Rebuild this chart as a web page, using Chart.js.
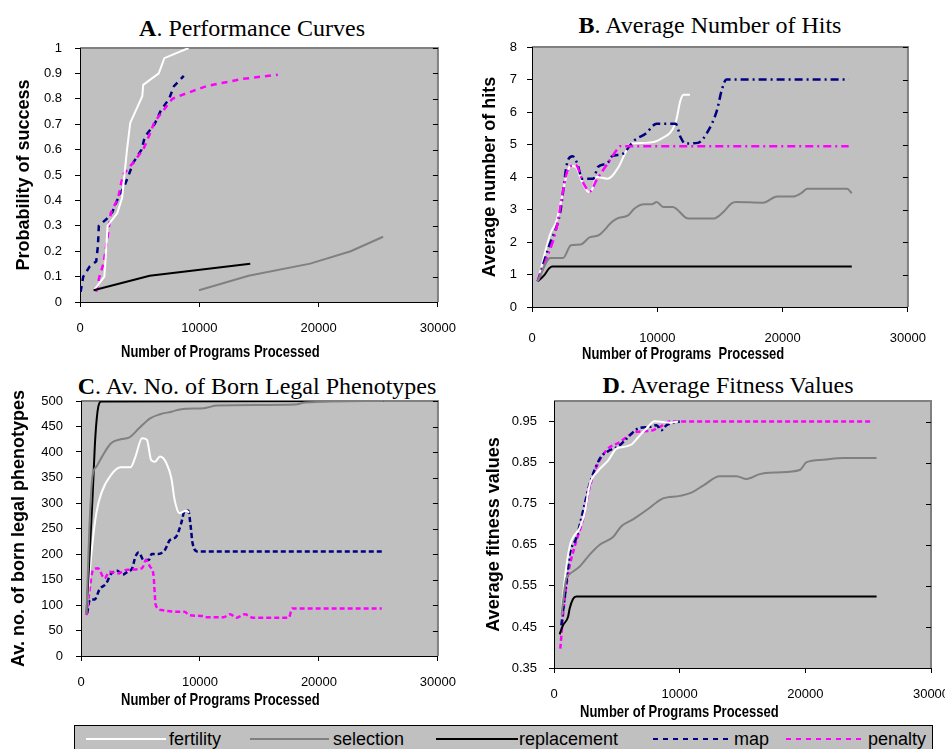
<!DOCTYPE html>
<html>
<head>
<meta charset="utf-8">
<script src="https://cdn.jsdelivr.net/npm/chart.js@4.4.1/dist/chart.umd.min.js"></script>
<style>
    html, body { margin: 0; padding: 0; background: #fff; width: 945px; height: 749px; overflow: hidden; }
    body { position: relative; }
    canvas { position: absolute; }
    .ttl { position: absolute; font-family: 'Liberation Serif', 'Times New Roman', serif; font-size: 24px; line-height: 24px; white-space: nowrap; transform: translateX(-50%); color: #000; }
    .xt { position: absolute; font-family: 'Liberation Sans', Arial, sans-serif; font-weight: bold; font-size: 13px; line-height: 18px; white-space: pre; color: #000; transform: scaleY(1.25); transform-origin: 0 50%; }
    #legend { position: absolute; left: 74px; top: 725px; width: 857px; height: 30px; background: #C0C0C0; border: 1px solid #000; }
    .lg-line { position: absolute; height: 2px; top: 12px; }
    .lg-txt { position: absolute; top: 2px; font-family: 'Liberation Sans', Arial, sans-serif; font-size: 18px; line-height: 22px; color: #000; }
</style>
</head>
<body>

<div class="ttl" style="left:252px; top:16px;"><b>A</b>. Performance Curves</div>
<div class="ttl" style="left:710px; top:13px;"><b>B</b>. Average Number of Hits</div>
<div class="ttl" style="left:257px; top:374px;"><b>C</b>. Av. No. of Born Legal Phenotypes</div>
<div class="ttl" style="left:728px; top:373px;"><b>D</b>. Average Fitness Values</div>

<canvas id="chartA" width="470" height="360" style="left:0px; top:0px;"></canvas>
<canvas id="chartB" width="475" height="370" style="left:470px; top:0px;"></canvas>
<canvas id="chartC" width="470" height="330" style="left:0px; top:360px;"></canvas>
<canvas id="chartD" width="495" height="345" style="left:470px; top:360px;"></canvas>

<div class="xt" style="left:121px; top:343px;">Number of Programs Processed</div>
<div class="xt" style="left:582px; top:345px;">Number of Programs  Processed</div>
<div class="xt" style="left:121px; top:691px;">Number of Programs Processed</div>
<div class="xt" style="left:580px; top:703px;">Number of Programs Processed</div>

<div id="legend"></div>

<script>
// series names + colours
const SERIES = ['fertility', 'selection', 'replacement', 'map', 'penalty'];
const COLORS = ['#FFFFFF', '#808080', '#000000', '#000080', '#FF00FF'];

const X_TICKS = [0, 10000, 20000, 30000];

// A. Performance Curves  [programs, probability]
const A_FERTILITY = [[1220,0.05],[2040,0.1],[2175,0.19],[2310,0.3],[3125,0.35],[3530,0.41],[3940,0.6],[4210,0.705],[5220,0.81],[5300,0.855],[6600,0.9],[7070,0.96],[9100,1.0]];
const A_SELECTION = [[9970,0.046],[14130,0.103],[19290,0.151],[22690,0.2],[25410,0.257]];
const A_REPLACEMENT = [[1140,0.046],[5840,0.103],[14270,0.151]];
const A_MAP = [[50,0.04],[270,0.1],[820,0.14],[1360,0.16],[1500,0.22],[1580,0.3],[2300,0.33],[2720,0.355],[3200,0.41],[3750,0.46],[4080,0.5],[4480,0.55],[5160,0.6],[5430,0.65],[6250,0.7],[6790,0.755],[7470,0.8],[7880,0.85],[8700,0.89]];
const A_PENALTY = [[1360,0.04],[1630,0.1],[1960,0.15],[2300,0.25],[2580,0.35],[3200,0.41],[3590,0.5],[4480,0.55],[5300,0.6],[5840,0.66],[6250,0.71],[6930,0.75],[7740,0.8],[8830,0.82],[10600,0.85],[13590,0.878],[16580,0.895]];
const A_YTICKS = [0, 0.1, 0.2, 0.3, 0.4, 0.5, 0.6, 0.7, 0.8, 0.9, 1];

// B. Average Number of Hits
const B_FERTILITY = [[456,0.79],[1470,2.26],[1975,2.67],[2860,4.2],[3110,4.34],[3490,4.31],[4000,3.85],[4510,3.54],[4760,3.59],[5140,4.0],[6025,3.95],[6910,4.31],[7420,4.72],[7920,5.03],[9060,5.05],[10330,5.18],[11470,5.69],[11850,6.36],[12100,6.53],[12600,6.53]];
const B_SELECTION = [[456,0.79],[1470,1.51],[2480,1.51],[3110,1.9],[3870,1.92],[4630,2.15],[5270,2.2],[6400,2.62],[6780,2.72],[7670,2.82],[8180,3.03],[8940,3.16],[9570,3.16],[9950,3.23],[10460,3.08],[11220,3.08],[12480,2.72],[14510,2.72],[15270,2.92],[15900,3.18],[16280,3.23],[18430,3.21],[19570,3.4],[20840,3.4],[21470,3.5],[21970,3.64],[25140,3.64],[25520,3.5]];
const B_REPLACEMENT = [[456,0.79],[962,0.97],[1342,1.18],[1595,1.25],[25520,1.25]];
const B_MAP = [[456,0.79],[1340,1.85],[2230,2.87],[2860,4.51],[3240,4.64],[3620,4.41],[4000,3.95],[4890,3.95],[5270,4.31],[6025,4.43],[6400,4.64],[7170,4.7],[8180,5.13],[9060,5.33],[9950,5.64],[11470,5.64],[11850,5.23],[12230,5.03],[13240,5.05],[14000,5.38],[14760,6.05],[15140,6.67],[15520,7.0],[25270,7.0]];
const B_PENALTY = [[456,0.79],[1215,1.54],[1850,2.26],[2990,4.31],[3490,4.36],[4130,3.79],[4630,3.56],[5140,3.9],[5650,4.2],[6025,4.41],[6780,4.84],[7040,4.95],[25270,4.95]];
const B_YTICKS = [0, 1, 2, 3, 4, 5, 6, 7, 8];

// C. Av. No. of Born Legal Phenotypes
const C_FERTILITY = [[466,84],[877,201],[1289,280],[1700,319],[2523,355],[3345,370],[4168,370],[4580,391],[5130,427],[5540,424],[5900,384],[6220,381],[6640,391],[7180,378],[7600,348],[7870,306],[8280,280],[8830,285],[9100,281]];
const C_SELECTION = [[466,84],[686,240],[960,352],[1289,371],[1700,388],[2523,417],[3345,425],[4030,428],[4850,446],[5810,466],[6640,474],[7600,479],[8420,484],[10340,486],[11430,491],[18010,493],[18840,497],[25420,500]];
const C_REPLACEMENT = [[466,84],[960,306],[1206,430],[1453,489],[1700,499],[25420,500]];
const C_MAP = [[521,84],[740,110],[1150,111],[1563,131],[2110,142],[2523,161],[3070,167],[3480,159],[3890,165],[4300,172],[4580,195],[4850,203],[5270,188],[5680,188],[5950,200],[6500,200],[7050,208],[7460,227],[8000,234],[8420,260],[8690,283],[9020,285],[9190,260],[9380,221],[9790,205],[25280,205]];
const C_PENALTY = [[466,80],[686,123],[1014,169],[1426,172],[1974,152],[2386,165],[3070,162],[3890,169],[5130,172],[5460,188],[5810,175],[6090,159],[6280,100],[6770,90],[7870,87],[8690,87],[9100,80],[10340,78],[10470,76],[11980,76],[12530,82],[13080,75],[13760,82],[14450,75],[17470,75],[17740,93],[25280,93]];
const C_YTICKS = [0, 50, 100, 150, 200, 250, 300, 350, 400, 450, 500];

// D. Average Fitness Values
const D_FERTILITY = [[584,0.478],[850,0.564],[1248,0.646],[2044,0.691],[2442,0.728],[2840,0.796],[3504,0.83],[4300,0.855],[4964,0.884],[5500,0.888],[6160,0.894],[6820,0.916],[7350,0.933],[8020,0.951],[8680,0.949],[9210,0.947],[9880,0.95]];
const D_SELECTION = [[584,0.478],[982,0.569],[1248,0.579],[2044,0.597],[2840,0.626],[3637,0.65],[4700,0.669],[5360,0.695],[6290,0.712],[7620,0.74],[8150,0.753],[8680,0.763],[10010,0.769],[10940,0.777],[11870,0.794],[13190,0.817],[14520,0.817],[15320,0.81],[16380,0.822],[17710,0.826],[19560,0.832],[20100,0.851],[21420,0.857],[23020,0.861],[25670,0.861]];
const D_REPLACEMENT = [[451,0.432],[717,0.454],[1115,0.474],[1248,0.495],[1513,0.518],[1779,0.524],[25670,0.524]];
const D_MAP = [[584,0.454],[982,0.556],[1248,0.626],[1779,0.667],[2442,0.749],[2840,0.798],[3637,0.859],[4430,0.88],[5100,0.889],[5760,0.908],[6690,0.933],[7620,0.937],[8150,0.941],[8550,0.929],[8950,0.941],[9480,0.947],[10010,0.95]];
const D_PENALTY = [[504,0.397],[717,0.478],[1115,0.577],[1646,0.646],[2310,0.712],[2840,0.79],[3370,0.839],[4170,0.88],[5230,0.9],[6560,0.925],[7620,0.927],[8420,0.937],[9210,0.95],[25400,0.95]];
const D_YTICKS = [0.35, 0.45, 0.55, 0.65, 0.75, 0.85, 0.95];

const TICK_FONT = { family: "'Liberation Sans', Arial, sans-serif", size: 13 };
const YTITLE_FONT = { family: "'Liberation Sans', Arial, sans-serif", size: 18, weight: 'bold' };

// grey plot area, darker top/right frame, inner tick marks on the right
const plotFrame = {
    id: 'plotFrame',
    beforeDraw(chart) {
        const { ctx, chartArea: a } = chart;
        ctx.save();
        ctx.fillStyle = '#C0C0C0';
        ctx.fillRect(a.left, a.top, a.right - a.left, a.bottom - a.top);
        ctx.strokeStyle = '#808080';
        ctx.lineWidth = 2;
        ctx.beginPath();
        ctx.moveTo(a.left, a.top);
        ctx.lineTo(a.right, a.top);
        ctx.lineTo(a.right, a.bottom);
        ctx.stroke();
        ctx.restore();
    },
    afterDraw(chart) {
        const { ctx, chartArea: a } = chart;
        const ys = chart.scales.y;
        ctx.save();
        ctx.strokeStyle = '#000';
        ctx.lineWidth = 1;
        ys.ticks.forEach(t => {
            const py = Math.round(ys.getPixelForValue(t.value)) + 0.5;
            ctx.beginPath();
            ctx.moveTo(a.right - 5, py);
            ctx.lineTo(a.right, py);
            ctx.stroke();
        });
        ctx.restore();
    }
};

function ds(label, pts, idx, dash, width) {
    return {
        label: label,
        data: pts.map(p => ({ x: p[0], y: p[1] })),
        borderColor: COLORS[idx],
        borderWidth: width || 2,
        borderDash: dash || [],
        pointRadius: 0,
        fill: false,
        tension: 0
    };
}

function makeChart(id, o) {
    const el = document.getElementById(id);
    return new Chart(el, {
        type: 'line',
        data: { datasets: o.datasets },
        options: {
            responsive: false,
            animation: false,
            layout: { padding: { top: o.padTop, right: o.padRight, left: 0, bottom: 0 } },
            plugins: { legend: { display: false }, tooltip: { enabled: false } },
            elements: { line: { cubicInterpolationMode: o.smooth ? 'monotone' : 'default' } },
            scales: {
                x: {
                    type: 'linear', min: 0, max: 30000,
                    afterBuildTicks: s => { s.ticks = X_TICKS.map(v => ({ value: v })); },
                    afterFit: s => { s.height = o.xH; },
                    border: { display: true, color: '#000', width: 1 },
                    grid: { display: true, drawOnChartArea: false, drawTicks: true, tickLength: 5, color: '#000' },
                    ticks: { color: '#000', font: TICK_FONT, padding: o.xPad, maxRotation: 0, autoSkip: false, callback: v => String(v) }
                },
                y: {
                    type: 'linear', min: o.yMin, max: o.yMax,
                    afterBuildTicks: s => { s.ticks = o.yTicks.map(v => ({ value: v })); },
                    afterFit: s => { s.width = o.yW; },
                    border: { display: true, color: '#000', width: 1 },
                    grid: { display: true, drawOnChartArea: false, drawTicks: true, tickLength: 5, color: '#000' },
                    ticks: { color: '#000', font: TICK_FONT, padding: o.yPad, autoSkip: false, callback: v => String(v) },
                    title: { display: true, text: o.yTitle, color: '#000', font: YTITLE_FONT, padding: { top: o.titlePad, bottom: 0 } }
                }
            }
        },
        plugins: [plotFrame]
    });
}

makeChart('chartA', {
    datasets: [
        ds('selection', A_SELECTION, 1),
        ds('replacement', A_REPLACEMENT, 2),
        ds('fertility', A_FERTILITY, 0),
        ds('penalty', A_PENALTY, 4, [6, 5], 2.5),
        ds('map', A_MAP, 3, [6, 5], 2.5)
    ],
    smooth: false, padTop: 48, padRight: 22, xH: 58, yW: 80, xPad: 14, yPad: 13, titlePad: 13,
    yMin: 0, yMax: 1, yTicks: A_YTICKS, yTitle: 'Probability of success'
});

makeChart('chartB', {
    datasets: [
        ds('selection', B_SELECTION, 1),
        ds('replacement', B_REPLACEMENT, 2),
        ds('penalty', B_PENALTY, 4, [8, 4, 2, 4], 2.5),
        ds('map', B_MAP, 3, [8, 4, 2, 4], 2.5),
        ds('fertility', B_FERTILITY, 0)
    ],
    smooth: true, padTop: 47, padRight: 18, xH: 63, yW: 62, xPad: 19, yPad: 10, titlePad: 9,
    yMin: 0, yMax: 8, yTicks: B_YTICKS, yTitle: 'Average number of hits'
});

makeChart('chartC', {
    datasets: [
        ds('selection', C_SELECTION, 1),
        ds('replacement', C_REPLACEMENT, 2),
        ds('fertility', C_FERTILITY, 0),
        ds('penalty', C_PENALTY, 4, [5, 3], 2.5),
        ds('map', C_MAP, 3, [5, 3], 2.5)
    ],
    smooth: true, padTop: 41, padRight: 24, xH: 34, yW: 81, xPad: 14, yPad: 13, titlePad: 8,
    yMin: 0, yMax: 500, yTicks: C_YTICKS, yTitle: 'Av. no. of born legal phenotypes'
});

makeChart('chartD', {
    datasets: [
        ds('selection', D_SELECTION, 1),
        ds('replacement', D_REPLACEMENT, 2),
        ds('fertility', D_FERTILITY, 0),
        ds('map', D_MAP, 3, [6, 3, 2, 3], 2.5),
        ds('penalty', D_PENALTY, 4, [5, 3], 2.5)
    ],
    smooth: true, padTop: 41, padRight: 34, xH: 37, yW: 84, xPad: 14, yPad: 12, titlePad: 13,
    yMin: 0.35, yMax: 1.0, yTicks: D_YTICKS, yTitle: 'Average fitness values'
});

// legend (positions relative to the legend box)
const LEGEND_LINES = [[11, 80], [175, 79], [361, 82], [578, 80], [711, 78]];
const LEGEND_TEXT_X = [94, 258, 444, 659, 793];
const legend = document.getElementById('legend');
SERIES.forEach((name, i) => {
    const ln = document.createElement('div');
    ln.className = 'lg-line';
    ln.style.left = LEGEND_LINES[i][0] + 'px';
    ln.style.width = LEGEND_LINES[i][1] + 'px';
    if (i >= 3) {
        ln.style.background = `repeating-linear-gradient(to right, ${COLORS[i]} 0 5px, transparent 5px 10px)`;
    } else {
        ln.style.background = COLORS[i];
    }
    legend.appendChild(ln);
    const tx = document.createElement('div');
    tx.className = 'lg-txt';
    tx.style.left = LEGEND_TEXT_X[i] + 'px';
    tx.textContent = name;
    legend.appendChild(tx);
});
</script>
</body>
</html>
